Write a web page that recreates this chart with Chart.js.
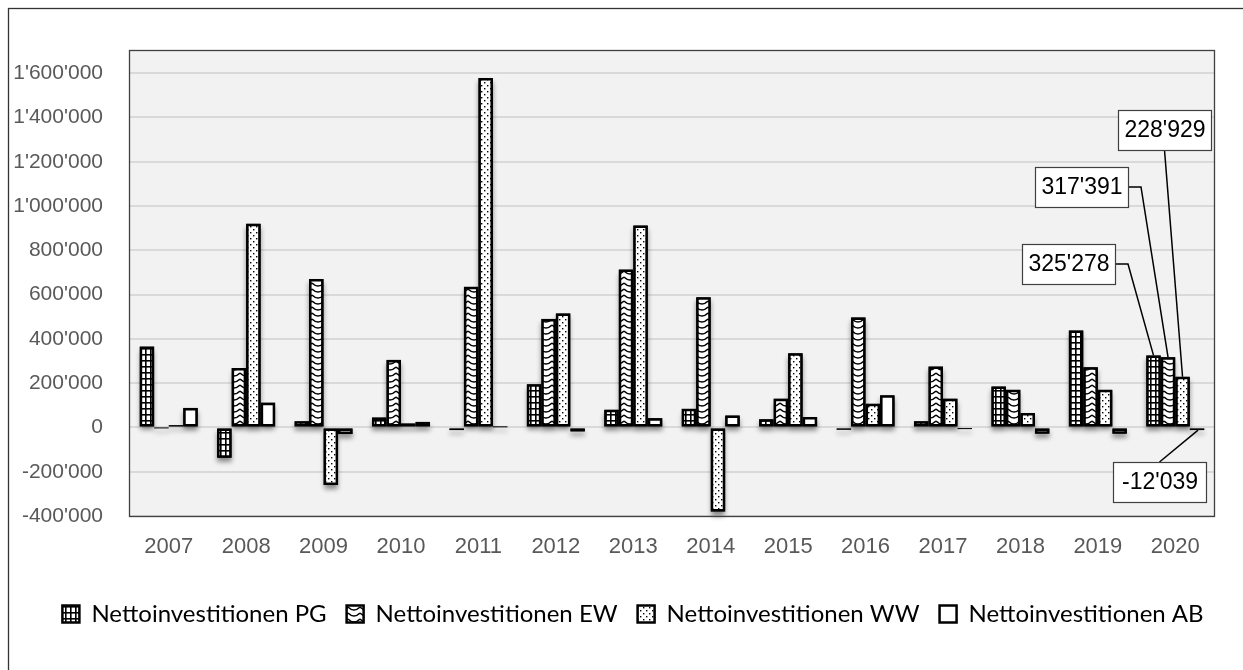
<!DOCTYPE html>
<html>
<head>
<meta charset="utf-8">
<script src="https://cdn.jsdelivr.net/npm/chart.js@4.4.1/dist/chart.umd.min.js"></script>
<style>
html,body{margin:0;padding:0;background:#fff;}
canvas{display:block;}
</style>
</head>
<body>
<canvas id="c" width="1243" height="670"></canvas>
<script>
const years = ['2007','2008','2009','2010','2011','2012','2013','2014','2015','2016','2017','2018','2019','2020'];
const seriesNames = ['Nettoinvestitionen PG','Nettoinvestitionen EW','Nettoinvestitionen WW','Nettoinvestitionen AB'];
const pg = [365000,-137000,28000,45000,-12000,195000,80000,84000,37000,-10000,28000,185000,438000,325278];
const ew = [0,268000,670000,305000,635000,490000,713000,588000,130000,497000,275000,170000,272000,317391];
const ww = [10000,920000,-260000,18000,1578000,515000,912000,-380000,335000,107000,130000,65000,170000,228929];
const ab = [88000,112000,-30000,25000,5000,-18000,42000,54000,47000,145000,-3000,-28000,-28000,-12039];
const yTickValues = [-400000,-200000,0,200000,400000,600000,800000,1000000,1200000,1400000,1600000];
const yMin = -400000, yMax = 1700000;

function fmt(v){ return String(Math.round(v)).replace(/\B(?=(\d{3})+(?!\d))/g, "'"); }

function mkCanvas(w,h){ const c=document.createElement('canvas'); c.width=w; c.height=h; const x=c.getContext('2d'); x.fillStyle='#fff'; x.fillRect(0,0,w,h); return [c,x]; }
const ctx0 = document.getElementById('c').getContext('2d');
function patGrid(){ const [c,x]=mkCanvas(5,6); x.fillStyle='#000'; x.fillRect(0,0,1.6,6); x.fillRect(0,0,5,1.6); return ctx0.createPattern(c,'repeat'); }
function patZig(){ const [c,x]=mkCanvas(12,6); x.strokeStyle='#000'; x.lineWidth=1.4; x.beginPath(); x.moveTo(0,1); x.quadraticCurveTo(6,7,12,1); x.stroke(); return ctx0.createPattern(c,'repeat'); }
function patDots(){ const [c,x]=mkCanvas(6,6); x.fillStyle='#000'; x.fillRect(1,1,1.4,1.4); x.fillRect(4,4,1.4,1.4); return ctx0.createPattern(c,'repeat'); }

const tickFont = "'Liberation Sans',Arial,sans-serif";

const bgPlugin = {
  id:'bg',
  afterLayout(chart){
    if(chart.legend){ chart.legend.left += 26; chart.legend.right += 26; }
  },
  beforeDraw(chart){
    const {ctx, chartArea:a} = chart;
    ctx.save(); ctx.fillStyle='#f2f2f2'; ctx.fillRect(a.left,a.top,a.right-a.left,a.bottom-a.top); ctx.restore();
  },
  beforeDatasetsDraw(chart){
    const ctx = chart.ctx;
    ctx.save();
    ctx.shadowColor='rgba(0,0,0,0.45)'; ctx.shadowBlur=5; ctx.shadowOffsetY=4; ctx.shadowOffsetX=0;
    ctx.fillStyle='#000';
    chart.data.datasets.forEach((d,i)=>{
      chart.getDatasetMeta(i).data.forEach(el=>{
        const {x,y,base,width} = el.getProps(['x','y','base','width'],true);
        const top=Math.min(y,base), h=Math.max(Math.abs(y-base),1);
        ctx.fillRect(x-width/2, top, width, h);
      });
    });
    ctx.restore();
  },
  afterDraw(chart){
    const {ctx, chartArea:a} = chart;
    ctx.save();
    ctx.strokeStyle='#404040'; ctx.lineWidth=1.3;
    ctx.strokeRect(a.left-0.5,a.top-0.5,a.right-a.left+1,a.bottom-a.top+1);
    ctx.strokeStyle='#333'; ctx.lineWidth=1.3;
    ctx.strokeRect(8.5,8.5,1240,700);
    const last = years.length-1;
    const labels = [
      {ds:0, v:pg[last], bx:1022, by:244, side:'right'},
      {ds:1, v:ew[last], bx:1035, by:167, side:'right'},
      {ds:2, v:ww[last], bx:1118, by:110, side:'bottom'},
      {ds:3, v:ab[last], bx:1113, by:462, side:'top'}
    ];
    const bw=93, bh=40;
    labels.forEach(L=>{
      const el = chart.getDatasetMeta(L.ds).data[last];
      const p = el.getProps(['x','y'],true);
      ctx.strokeStyle='#000'; ctx.lineWidth=1.5;
      ctx.beginPath();
      if(L.side==='right'){ const sy=L.by+bh/2; ctx.moveTo(L.bx+bw,sy); ctx.lineTo(L.bx+bw+13,sy); ctx.lineTo(p.x,p.y); }
      else if(L.side==='bottom'){ ctx.moveTo(L.bx+bw/2,L.by+bh); ctx.lineTo(p.x,p.y); }
      else { ctx.moveTo(L.bx+bw/2,L.by); ctx.lineTo(p.x+1,p.y); }
      ctx.stroke();
      ctx.fillStyle='#fff'; ctx.fillRect(L.bx,L.by,bw,bh);
      ctx.strokeStyle='#404040'; ctx.lineWidth=1.2; ctx.strokeRect(L.bx+0.5,L.by+0.5,bw,bh);
      ctx.fillStyle='#000'; ctx.font='23px '+tickFont; ctx.textAlign='center'; ctx.textBaseline='middle';
      ctx.fillText(fmt(L.v), L.bx+bw/2+0.5, L.by+bh/2+1);
    });
    ctx.restore();
  }
};

const common = {borderColor:'#000', borderWidth:2.5, borderSkipped:false, barPercentage:1.0, categoryPercentage:0.75};
new Chart(document.getElementById('c'), {
  type:'bar',
  data:{
    labels: years,
    datasets:[
      Object.assign({label:seriesNames[0], data:pg, backgroundColor:patGrid()}, common),
      Object.assign({label:seriesNames[1], data:ew, backgroundColor:patZig()}, common),
      Object.assign({label:seriesNames[2], data:ww, backgroundColor:patDots()}, common),
      Object.assign({label:seriesNames[3], data:ab, backgroundColor:'#fff'}, common)
    ]
  },
  options:{
    responsive:false, animation:false, devicePixelRatio:1,
    layout:{padding:{left:0, top:51, right:29, bottom:34}},
    plugins:{
      tooltip:{enabled:false},
      legend:{position:'bottom', labels:{font:{family:'Lato', size:24}, color:'#000', boxWidth:17, boxHeight:17, padding:20}}
    },
    scales:{
      y:{
        min:yMin, max:yMax,
        ticks:{callback:v=>fmt(v), color:'#595959', font:{family:tickFont, size:21}, padding:27},
        grid:{color:'#d9d9d9', lineWidth:2, drawTicks:false},
        border:{display:false},
        afterBuildTicks:s=>{ s.ticks = yTickValues.map(v=>({value:v})); },
        afterFit:s=>{ s.width = 130; }
      },
      x:{
        ticks:{color:'#595959', font:{family:tickFont, size:22}, padding:18},
        grid:{display:false, drawTicks:false},
        border:{display:false},
        afterFit:s=>{ s.height = 66; }
      }
    }
  },
  plugins:[bgPlugin]
});
</script>
</body>
</html>
